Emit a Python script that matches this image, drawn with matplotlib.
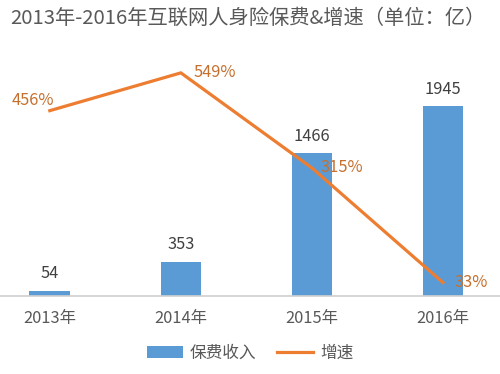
import matplotlib
matplotlib.use("Agg")
import matplotlib.pyplot as plt
from matplotlib.patches import Patch
from matplotlib.lines import Line2D

plt.rcParams['font.family'] = ['Noto Sans CJK SC', 'DejaVu Sans']

categories = ["2013年", "2014年", "2015年", "2016年"]
premium = [54, 353, 1466, 1945]
growth = [456, 549, 315, 33]
growth_labels = ["456%", "549%", "315%", "33%"]

bar_color = "#5B9BD5"
line_color = "#ED7D31"
label_color = "#404040"
pct_color = "#C5702F"

fig = plt.figure(figsize=(5.0, 3.74), dpi=100)
ax = fig.add_axes([0.0, 0.2086, 1.0, 0.652])
x = list(range(len(categories)))
ax.bar(x, premium, width=0.31, color=bar_color, zorder=2)
ax.set_ylim(0, 2500)
ax.set_xlim(-0.38, 3.435)
for s in ["top", "right", "left"]:
    ax.spines[s].set_visible(False)
ax.spines["bottom"].set_color("#D0D0D0")
ax.spines["bottom"].set_linewidth(1.2)
ax.set_yticks([])
ax.set_xticks(x)
ax.set_xticklabels(categories, fontsize=11.8, color="#595959")
ax.tick_params(axis="x", length=0, pad=10)
for xi, v in zip(x, premium):
    ax.annotate(str(v), (xi, v), xytext=(0, 6), textcoords="offset points",
                ha="center", va="bottom", fontsize=11.8, color=label_color)

ax2 = ax.twinx()
ax2.set_ylim(0, 600)
ax2.plot(x, growth, color=line_color, lw=2.3, zorder=3, solid_joinstyle="miter")
for s in ["top", "right", "left", "bottom"]:
    ax2.spines[s].set_visible(False)
ax2.set_yticks([])
offsets = [(-12, 7, "center"), (9, 0, "left"), (6, 0, "left"), (8, 0, "left")]
for xi, v, lab, (dx, dy, ha) in zip(x, growth, growth_labels, offsets):
    ax2.annotate(lab, (xi, v), xytext=(dx, dy), textcoords="offset points",
                 ha=ha, va="center", fontsize=11.8, color=pct_color)

fig.text(0.02, 0.952, "2013年-2016年互联网人身险保费&增速（单位：亿）",
         fontsize=14.6, color="#595959", ha="left", va="center")

handles = [Patch(facecolor=bar_color, edgecolor="none"),
           Line2D([0], [0], color=line_color, lw=2.3)]
fig.legend(handles, ["保费收入", "增速"], loc="center", bbox_to_anchor=(0.5, 0.055),
           ncol=2, frameon=False, fontsize=12, handlelength=2.2,
           columnspacing=1.2, handletextpad=0.4, labelcolor="#595959")

fig.savefig("out.png", dpi=100)
